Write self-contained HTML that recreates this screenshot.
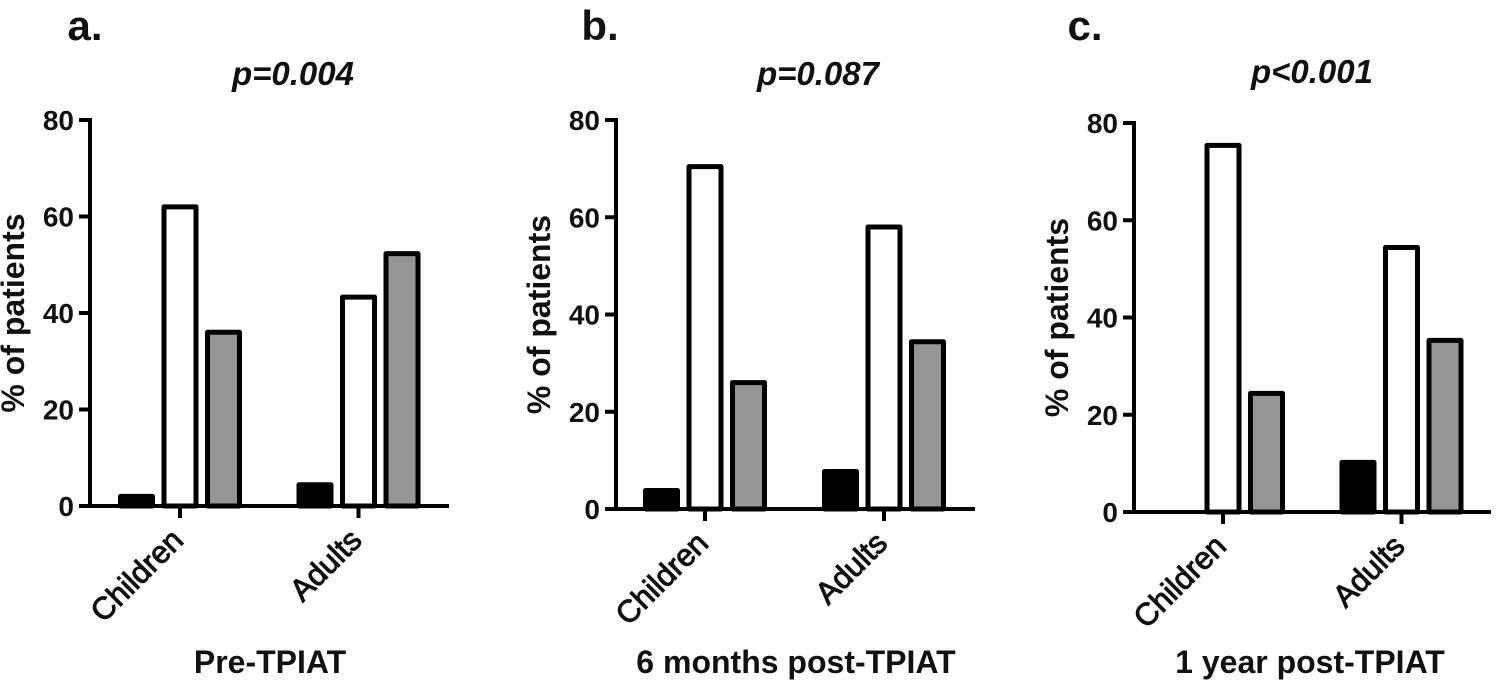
<!DOCTYPE html>
<html lang="en">
<head>
<meta charset="utf-8">
<title>Percent of patients by age group at three TPIAT time points</title>
<style>
html,body{margin:0;padding:0;background:#fff;width:1500px;height:688px;overflow:hidden}
svg{display:block}
text{font-family:"Liberation Sans",Arial,sans-serif;font-weight:bold;fill:#111}
text.cat{font-weight:normal;stroke:#111;stroke-width:1px}
</style>
</head>
<body>
<svg id="chart" xmlns="http://www.w3.org/2000/svg" width="1500" height="688" viewBox="0 0 1500 688"></svg>
<script>
const categories = ['Children', 'Adults'];
const tickLabels = [0, 20, 40, 60, 80];
const panelALetters = 'a.';
const panelAPValue = 'p=0.004';
const panelATitle = 'Pre-TPIAT';
const panelABlack = [2, 4.4];
const panelAWhite = [62, 43.3];
const panelAGray = [36, 52.3];
const panelBLetters = 'b.';
const panelBPValue = 'p=0.087';
const panelBTitle = '6 months post-TPIAT';
const panelBBlack = [3.8, 7.7];
const panelBWhite = [70.4, 58];
const panelBGray = [26, 34.4];
const panelCLetters = 'c.';
const panelCPValue = 'p<0.001';
const panelCTitle = '1 year post-TPIAT';
const panelCBlack = [0, 10.2];
const panelCWhite = [75.4, 54.4];
const panelCGray = [24.4, 35.3];

const NS = 'http://www.w3.org/2000/svg';
const root = document.getElementById('chart');

function make(parent, tag, attrs, content) {
  const el = document.createElementNS(NS, tag);
  for (const k in attrs) el.setAttribute(k, attrs[k]);
  if (content !== undefined) el.textContent = content;
  parent.appendChild(el);
  return el;
}

function drawPanel(cfg) {
  const g = make(root, 'g', {});
  
  

  const yScale = v => cfg.y0 + (cfg.y80 - cfg.y0) * v / 80;
  const groupCenter = i => cfg.c0 + i * cfg.step;

  const letter = make(g, 'text', {x: cfg.letterX, y: 40, 'font-size': 42, 'text-anchor': 'middle'}, cfg.letter);
  
  

  const pv = make(g, 'text', {x: cfg.pX, y: cfg.pY, 'font-size': 33, 'font-style': 'italic', 'text-anchor': 'middle'}, cfg.p);
  
  

  const series = [
    {name: 'black', vals: cfg.black, fill: '#000', off: -43.5},
    {name: 'white', vals: cfg.white, fill: '#fff', off: 0},
    {name: 'gray', vals: cfg.gray, fill: '#959595', off: 43.5}
  ];
  series.forEach(s => {
    s.vals.forEach((v, i) => {
      if (v <= 0) return;
      const w = 32;
      const cx = groupCenter(i) + s.off;
      const top = yScale(v);
      const r = make(g, 'rect', {x: cx - w / 2, y: top, width: w, height: cfg.y0 - top, fill: s.fill, stroke: '#000', 'stroke-width': 5, 'stroke-linejoin': 'round'});
      
      
    });
  });

  const yAxis = make(g, 'line', {x1: cfg.ax, x2: cfg.ax, y1: yScale(80) - 2, y2: cfg.y0 + 2, stroke: '#000', 'stroke-width': 4});
  
  

  const xAxis = make(g, 'line', {x1: cfg.ax - 11, x2: cfg.xEnd, y1: cfg.y0, y2: cfg.y0, stroke: '#000', 'stroke-width': 4});
  
  

  tickLabels.forEach(t => {
    const y = yScale(t);
    if (t > 0) {
      const tick = make(g, 'line', {x1: cfg.ax - 11, x2: cfg.ax, y1: y, y2: y, stroke: '#000', 'stroke-width': 4});
      
      
    }
    const lab = make(g, 'text', {x: cfg.ax - 16, y: y + 10, 'font-size': 28, 'text-anchor': 'end'}, String(t));
    
    
  });

  categories.forEach((c, i) => {
    const cx = groupCenter(i);
    const tick = make(g, 'line', {x1: cx, x2: cx, y1: cfg.y0, y2: cfg.y0 + 12, stroke: '#000', 'stroke-width': 4});
    
    
    const tx = cx + 5, ty = cfg.y0 + 36;
    const lab = make(g, 'text', {x: tx, y: ty, 'font-size': 31, 'text-anchor': 'end', class: 'cat', transform: 'rotate(-45 ' + tx + ' ' + ty + ')'}, c);
    
    
  });

  const yx = cfg.ax - 66, yy = (cfg.y0 + yScale(80)) / 2;
  const yt = make(g, 'text', {x: yx, y: yy, 'font-size': 32, 'text-anchor': 'middle', transform: 'rotate(-90 ' + yx + ' ' + yy + ')'}, '% of patients');
  
  

  const xt = make(g, 'text', {x: cfg.tX, y: cfg.tY, 'font-size': 32, 'text-anchor': 'middle'}, cfg.title);
  
  
}

drawPanel({id: 'a', letter: panelALetters, p: panelAPValue, title: panelATitle, black: panelABlack, white: panelAWhite, gray: panelAGray,
  ax: 90, xEnd: 449, y0: 506, y80: 120, c0: 180, step: 178.5, letterX: 85, pX: 293, pY: 85, tX: 270, tY: 673});
drawPanel({id: 'b', letter: panelBLetters, p: panelBPValue, title: panelBTitle, black: panelBBlack, white: panelBWhite, gray: panelBGray,
  ax: 616, xEnd: 975, y0: 509, y80: 120, c0: 705, step: 179, letterX: 600, pX: 818, pY: 85, tX: 796, tY: 673});
drawPanel({id: 'c', letter: panelCLetters, p: panelCPValue, title: panelCTitle, black: panelCBlack, white: panelCWhite, gray: panelCGray,
  ax: 1134, xEnd: 1491, y0: 512, y80: 123, c0: 1223, step: 178.5, letterX: 1085, pX: 1312, pY: 83, tX: 1310, tY: 673});
</script>
</body>
</html>
